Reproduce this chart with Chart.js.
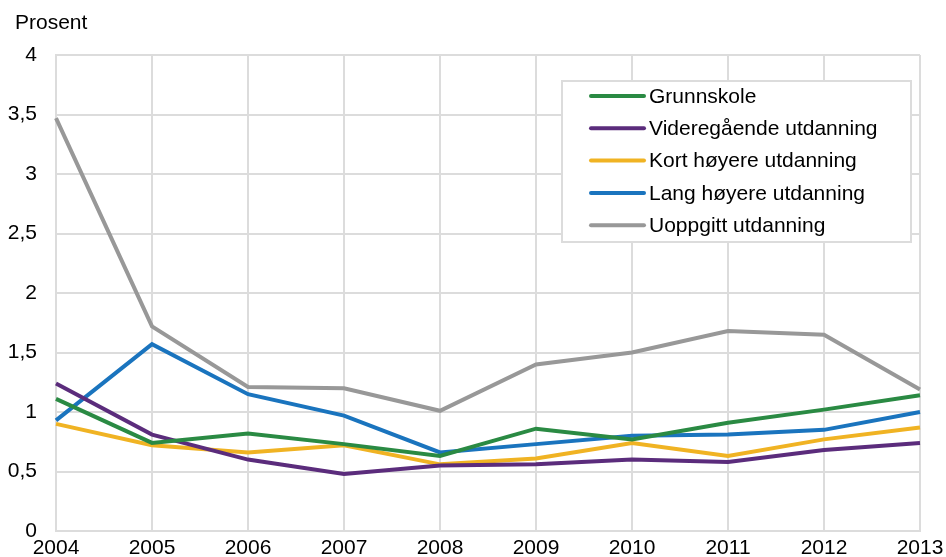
<!DOCTYPE html>
<html>
<head>
<meta charset="utf-8">
<script src="https://cdn.jsdelivr.net/npm/chart.js@4"></script>
<style>
  html, body { margin: 0; padding: 0; background: #fff; }
  #wrap { width: 946px; height: 557px; }
</style>
</head>
<body>
<div id="wrap"><canvas id="myChart" width="946" height="557"></canvas></div>
<script>
var years = ['2004', '2005', '2006', '2007', '2008', '2009', '2010', '2011', '2012', '2013'];
var seriesNames = ['Grunnskole', 'Videregående utdanning', 'Kort høyere utdanning', 'Lang høyere utdanning', 'Uoppgitt utdanning'];
var grunnskole = [1.11, 0.74, 0.82, 0.73, 0.63, 0.86, 0.77, 0.91, 1.02, 1.14];
var videregaende = [1.24, 0.81, 0.60, 0.48, 0.55, 0.56, 0.60, 0.58, 0.68, 0.74];
var kortHoyere = [0.90, 0.72, 0.66, 0.72, 0.56, 0.61, 0.74, 0.63, 0.77, 0.87];
var langHoyere = [0.93, 1.57, 1.15, 0.97, 0.66, 0.73, 0.80, 0.81, 0.85, 1.00];
var uoppgitt = [3.47, 1.72, 1.21, 1.20, 1.01, 1.40, 1.50, 1.68, 1.65, 1.19];
var colors = ['#2a8a43', '#5b2c7c', '#f0b323', '#1a74be', '#989898'];

var FONT = '"Liberation Sans", Arial, sans-serif';
var gridColor = '#dcdcdc';

var allSeries = [grunnskole, videregaende, kortHoyere, langHoyere, uoppgitt];
var datasets = allSeries.map(function (d, i) {
    return {
        label: seriesNames[i],
        data: d,
        borderColor: colors[i],
        backgroundColor: colors[i],
        borderWidth: 4,
        pointRadius: 0,
        tension: 0,
        fill: false
    };
});

// y-axis unit label and the boxed legend inside the plot
var extras = {
    id: 'extras',
    afterDraw: function (chart) {
        var c = chart.ctx;
        c.save();
        c.font = '21px ' + FONT;
        c.fillStyle = '#000';
        c.textBaseline = 'middle';
        c.textAlign = 'left';
        c.fillText('Prosent', 15, 23);

        // legend box
        c.fillStyle = '#fff';
        c.fillRect(562, 81, 349, 161);
        c.strokeStyle = gridColor;
        c.lineWidth = 2;
        c.strokeRect(562, 81, 349, 161);

        chart.data.datasets.forEach(function (ds, i) {
            var y = 96 + i * 32.3;
            c.strokeStyle = ds.borderColor;
            c.lineWidth = 4;
            c.lineCap = 'round';
            c.beginPath();
            c.moveTo(591, y);
            c.lineTo(644, y);
            c.stroke();
            c.fillStyle = '#000';
            c.fillText(ds.label, 649, y + 1);
        });
        c.restore();
    }
};

var ctx = document.getElementById('myChart').getContext('2d');
var myChart = new Chart(ctx, {
    type: 'line',
    data: {
        labels: years,
        datasets: datasets
    },
    options: {
        responsive: false,
        animation: false,
        layout: { padding: { top: 55, right: 26, left: 0, bottom: 0 } },
        plugins: {
            legend: { display: false },
            tooltip: { enabled: false }
        },
        scales: {
            x: {
                offset: false,
                grid: { color: gridColor, lineWidth: 2, drawTicks: false },
                border: { color: gridColor, width: 2 },
                ticks: {
                    color: '#000',
                    font: { family: FONT, size: 21 },
                    padding: 5,
                    maxRotation: 0,
                    autoSkip: false
                },
                afterFit: function (s) {
                    s.height = 26;
                    s.paddingLeft = 0;
                    s.paddingRight = 0;
                }
            },
            y: {
                min: 0,
                max: 4,
                grid: { color: gridColor, lineWidth: 2, drawTicks: false },
                border: { color: gridColor, width: 2 },
                ticks: {
                    stepSize: 0.5,
                    color: '#000',
                    font: { family: FONT, size: 21 },
                    padding: 19,
                    callback: function (v) { return String(v).replace('.', ','); }
                },
                afterFit: function (s) {
                    s.width = 56;
                    s.paddingTop = 0;
                    s.paddingBottom = 0;
                }
            }
        }
    },
    plugins: [extras]
});
</script>
</body>
</html>
